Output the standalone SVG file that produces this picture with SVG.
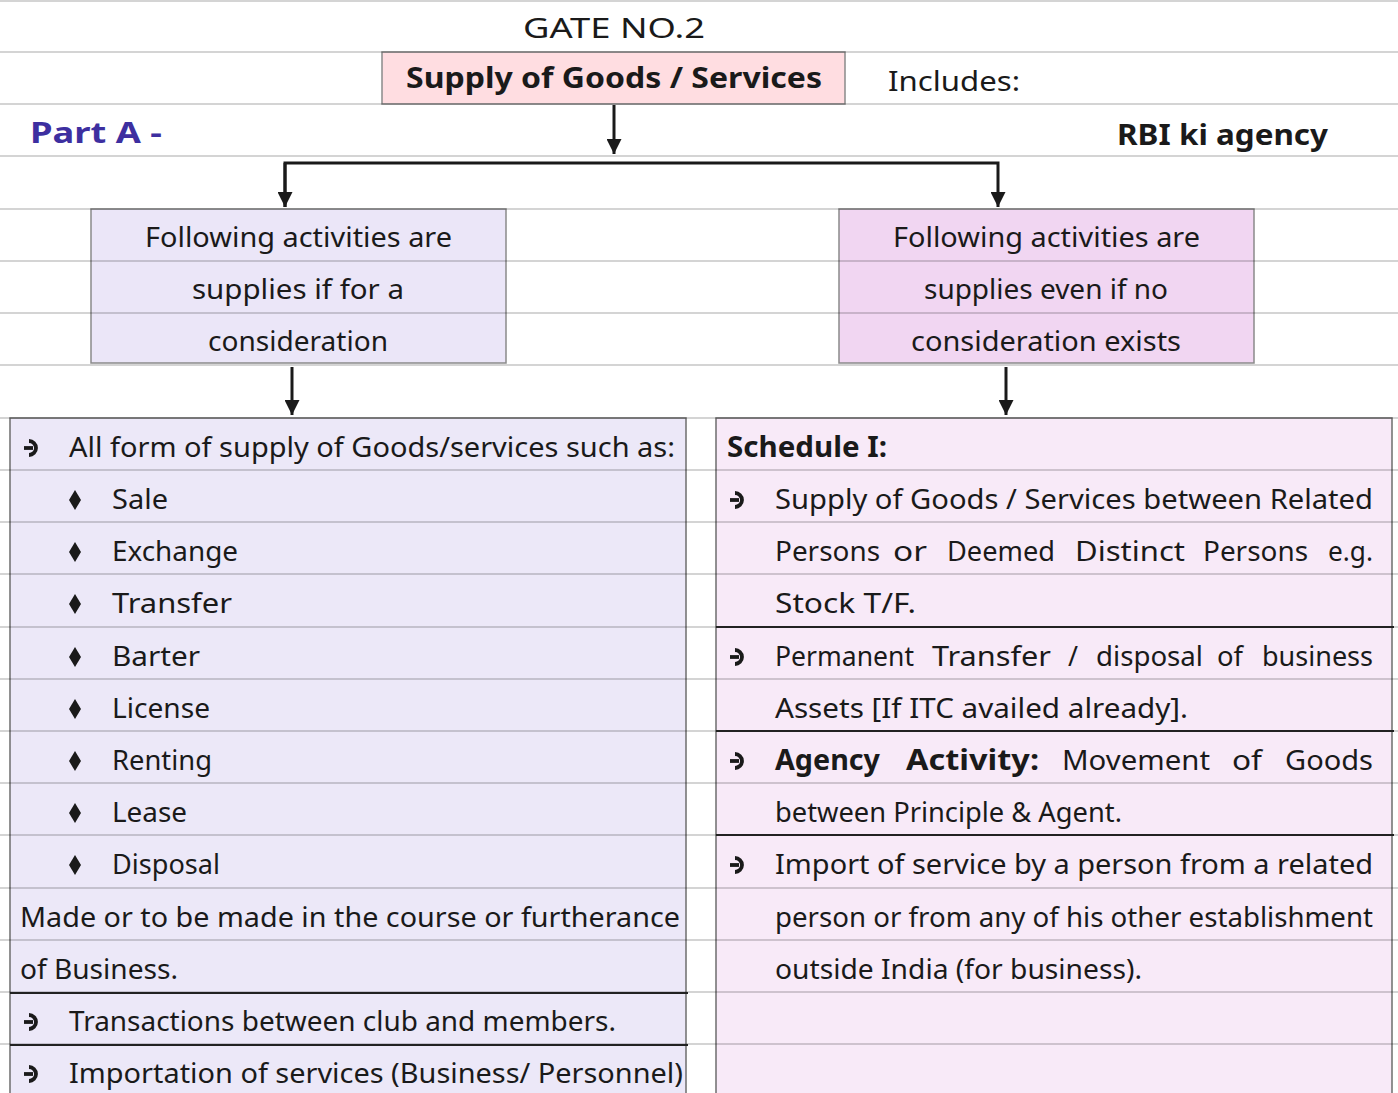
<svg xmlns="http://www.w3.org/2000/svg" xmlns:xlink="http://www.w3.org/1999/xlink" width="1398" height="1093" viewBox="0 0 1398 1093">
<style>
.t{font-family:"Noto Sans","DejaVu Sans",sans-serif;font-size:28px;fill:#1a1a1a}
.b{font-weight:bold}
.rule{stroke:#000;stroke-opacity:0.17;stroke-width:2}
.box{stroke:#8a8a8a;stroke-width:1.5}
.big{stroke:#6e6e6e;stroke-width:1.5}
.sep{stroke:#222;stroke-width:2}
.con{stroke:#1a1a1a;stroke-width:3;fill:none}
</style>
<defs>
<marker id="ah" viewBox="0 0 10 10" refX="10" refY="5" markerWidth="5" markerHeight="5" markerUnits="strokeWidth" orient="auto">
<path d="M0,0 L10,5 L0,10 z" fill="#1a1a1a"/>
</marker>
<g id="arr"><path d="M-3,-7 A7,7 0 1 1 -3,7" fill="none" stroke="#1a1a1a" stroke-width="3.8"/><path d="M-8,0 L1,0" stroke="#1a1a1a" stroke-width="3.8"/></g>
<path id="dia" d="M0,-10 L6,0 L0,10 L-6,0 z" fill="#1a1a1a"/>
</defs>
<rect width="1398" height="1093" fill="#ffffff"/>
<g id="node-top"><rect class="box" x="382" y="52" width="463" height="52" fill="#ffdde1"/></g>
<g id="node-left-mid"><rect class="box" x="91" y="209" width="415" height="154" fill="#ebe6f8"/></g>
<g id="node-right-mid"><rect class="box" x="839" y="209" width="415" height="154" fill="#f1d6f2"/></g>
<g id="node-left-big"><rect class="big" x="10" y="418" width="676" height="680" fill="#ece8f8"/></g>
<g id="node-right-big"><rect class="big" x="716" y="418" width="676" height="680" fill="#f8eaf8"/></g>
<g id="rules">
<line class="rule" x1="0" y1="1" x2="1398" y2="1"/>
<line class="rule" x1="0" y1="52" x2="1398" y2="52"/>
<line class="rule" x1="0" y1="104" x2="1398" y2="104"/>
<line class="rule" x1="0" y1="156" x2="1398" y2="156"/>
<line class="rule" x1="0" y1="209" x2="1398" y2="209"/>
<line class="rule" x1="0" y1="261" x2="1398" y2="261"/>
<line class="rule" x1="0" y1="313" x2="1398" y2="313"/>
<line class="rule" x1="0" y1="365" x2="1398" y2="365"/>
<line class="rule" x1="0" y1="418" x2="1398" y2="418"/>
<line class="rule" x1="0" y1="470" x2="1398" y2="470"/>
<line class="rule" x1="0" y1="522" x2="1398" y2="522"/>
<line class="rule" x1="0" y1="574" x2="1398" y2="574"/>
<line class="rule" x1="0" y1="627" x2="1398" y2="627"/>
<line class="rule" x1="0" y1="679" x2="1398" y2="679"/>
<line class="rule" x1="0" y1="731" x2="1398" y2="731"/>
<line class="rule" x1="0" y1="783" x2="1398" y2="783"/>
<line class="rule" x1="0" y1="835" x2="1398" y2="835"/>
<line class="rule" x1="0" y1="888" x2="1398" y2="888"/>
<line class="rule" x1="0" y1="940" x2="1398" y2="940"/>
<line class="rule" x1="0" y1="992" x2="1398" y2="992"/>
<line class="rule" x1="0" y1="1044" x2="1398" y2="1044"/>
</g>
<g id="separators">
<line class="sep" x1="10" y1="993" x2="688" y2="993"/>
<line class="sep" x1="10" y1="1045" x2="688" y2="1045"/>
<line class="sep" x1="716" y1="627" x2="1394" y2="627"/>
<line class="sep" x1="716" y1="731" x2="1394" y2="731"/>
<line class="sep" x1="716" y1="835" x2="1394" y2="835"/>
</g>
<g id="connectors">
<line class="con" x1="614" y1="105" x2="614" y2="154" marker-end="url(#ah)"/>
<polyline class="con" points="285,207 285,163 998,163 998,207" marker-end="url(#ah)"/>
<path class="con" d="M285,163 L285,207" marker-end="url(#ah)"/>
<line class="con" x1="292" y1="367" x2="292" y2="415" marker-end="url(#ah)"/>
<line class="con" x1="1006" y1="367" x2="1006" y2="415" marker-end="url(#ah)"/>
</g>
<g id="header">
<text class="t" x="523" y="38" font-size="32" textLength="182" lengthAdjust="spacingAndGlyphs">GATE NO.2</text>
<text class="t" x="888" y="91" font-size="30" textLength="132" lengthAdjust="spacingAndGlyphs">Includes:</text>
<text class="t b" x="30" y="143" font-size="30" style="fill:#3d2fa0" textLength="132" lengthAdjust="spacingAndGlyphs">Part A -</text>
<text class="t b" x="1117" y="145" font-size="30" textLength="211" lengthAdjust="spacingAndGlyphs">RBI ki agency</text>
</g>
<g id="node-top-text"><text class="t b" x="406" y="88" font-size="30" textLength="416" lengthAdjust="spacingAndGlyphs">Supply of Goods / Services</text></g>
<g id="node-left-mid-text">
<text class="t" x="145" y="247" textLength="307" lengthAdjust="spacingAndGlyphs">Following activities are</text>
<text class="t" x="192" y="299" textLength="212" lengthAdjust="spacingAndGlyphs">supplies if for a</text>
<text class="t" x="208" y="351" textLength="180" lengthAdjust="spacingAndGlyphs">consideration</text>
</g>
<g id="node-right-mid-text">
<text class="t" x="893" y="247" textLength="307" lengthAdjust="spacingAndGlyphs">Following activities are</text>
<text class="t" x="924" y="299" textLength="244" lengthAdjust="spacingAndGlyphs">supplies even if no</text>
<text class="t" x="911" y="351" textLength="270" lengthAdjust="spacingAndGlyphs">consideration exists</text>
</g>
<g id="node-left-big-text">
<use xlink:href="#arr" href="#arr" x="32" y="448"/>
<text class="t" x="69" y="457" textLength="606" lengthAdjust="spacingAndGlyphs">All form of supply of Goods/services such as:</text>
<use xlink:href="#dia" href="#dia" x="75" y="500"/>
<text class="t" x="112" y="509" textLength="56" lengthAdjust="spacingAndGlyphs">Sale</text>
<use xlink:href="#dia" href="#dia" x="75" y="552"/>
<text class="t" x="112" y="561" textLength="126" lengthAdjust="spacingAndGlyphs">Exchange</text>
<use xlink:href="#dia" href="#dia" x="75" y="604"/>
<text class="t" x="112" y="613" textLength="120" lengthAdjust="spacingAndGlyphs">Transfer</text>
<use xlink:href="#dia" href="#dia" x="75" y="657"/>
<text class="t" x="112" y="666" textLength="88" lengthAdjust="spacingAndGlyphs">Barter</text>
<use xlink:href="#dia" href="#dia" x="75" y="709"/>
<text class="t" x="112" y="718" textLength="98" lengthAdjust="spacingAndGlyphs">License</text>
<use xlink:href="#dia" href="#dia" x="75" y="761"/>
<text class="t" x="112" y="770" textLength="100" lengthAdjust="spacingAndGlyphs">Renting</text>
<use xlink:href="#dia" href="#dia" x="75" y="813"/>
<text class="t" x="112" y="822" textLength="75" lengthAdjust="spacingAndGlyphs">Lease</text>
<use xlink:href="#dia" href="#dia" x="75" y="865"/>
<text class="t" x="112" y="874" textLength="108" lengthAdjust="spacingAndGlyphs">Disposal</text>
<text class="t" x="20" y="927" textLength="660" lengthAdjust="spacingAndGlyphs">Made or to be made in the course or furtherance</text>
<text class="t" x="20" y="979" textLength="158" lengthAdjust="spacingAndGlyphs">of Business.</text>
<use xlink:href="#arr" href="#arr" x="32" y="1022"/>
<text class="t" x="69" y="1031" textLength="547" lengthAdjust="spacingAndGlyphs">Transactions between club and members.</text>
<use xlink:href="#arr" href="#arr" x="32" y="1074"/>
<text class="t" x="69" y="1083" textLength="614" lengthAdjust="spacingAndGlyphs">Importation of services (Business/ Personnel)</text>
</g>
<g id="node-right-big-text">
<text class="t b" x="727" y="457" textLength="160" lengthAdjust="spacingAndGlyphs">Schedule I:</text>
<use xlink:href="#arr" href="#arr" x="738" y="500"/>
<text class="t" x="775" y="509" textLength="598" lengthAdjust="spacingAndGlyphs">Supply of Goods / Services between Related</text>
<text class="t" x="775" y="561" textLength="105" lengthAdjust="spacingAndGlyphs">Persons</text>
<text class="t" x="893" y="561" textLength="34" lengthAdjust="spacingAndGlyphs">or</text>
<text class="t" x="947" y="561" textLength="108" lengthAdjust="spacingAndGlyphs">Deemed</text>
<text class="t" x="1075" y="561" textLength="110" lengthAdjust="spacingAndGlyphs">Distinct</text>
<text class="t" x="1203" y="561" textLength="105" lengthAdjust="spacingAndGlyphs">Persons</text>
<text class="t" x="1328" y="561" textLength="45" lengthAdjust="spacingAndGlyphs">e.g.</text>
<text class="t" x="775" y="613" textLength="141" lengthAdjust="spacingAndGlyphs">Stock T/F.</text>
<use xlink:href="#arr" href="#arr" x="738" y="657"/>
<text class="t" x="775" y="666" textLength="139" lengthAdjust="spacingAndGlyphs">Permanent</text>
<text class="t" x="932" y="666" textLength="119" lengthAdjust="spacingAndGlyphs">Transfer</text>
<text class="t" x="1068" y="666" textLength="10" lengthAdjust="spacingAndGlyphs">/</text>
<text class="t" x="1096" y="666" textLength="107" lengthAdjust="spacingAndGlyphs">disposal</text>
<text class="t" x="1217" y="666" textLength="26" lengthAdjust="spacingAndGlyphs">of</text>
<text class="t" x="1262" y="666" textLength="111" lengthAdjust="spacingAndGlyphs">business</text>
<text class="t" x="775" y="718" textLength="413" lengthAdjust="spacingAndGlyphs">Assets [If ITC availed already].</text>
<use xlink:href="#arr" href="#arr" x="738" y="761"/>
<text class="t b" x="775" y="770" textLength="105" lengthAdjust="spacingAndGlyphs">Agency</text>
<text class="t b" x="906" y="770" textLength="133" lengthAdjust="spacingAndGlyphs">Activity:</text>
<text class="t" x="1062" y="770" textLength="148" lengthAdjust="spacingAndGlyphs">Movement</text>
<text class="t" x="1232" y="770" textLength="30" lengthAdjust="spacingAndGlyphs">of</text>
<text class="t" x="1285" y="770" textLength="88" lengthAdjust="spacingAndGlyphs">Goods</text>
<text class="t" x="775" y="822" textLength="347" lengthAdjust="spacingAndGlyphs">between Principle &amp; Agent.</text>
<use xlink:href="#arr" href="#arr" x="738" y="865"/>
<text class="t" x="775" y="874" textLength="598" lengthAdjust="spacingAndGlyphs">Import of service by a person from a related</text>
<text class="t" x="775" y="927" textLength="598" lengthAdjust="spacingAndGlyphs">person or from any of his other establishment</text>
<text class="t" x="775" y="979" textLength="367" lengthAdjust="spacingAndGlyphs">outside India (for business).</text>
</g>
</svg>
